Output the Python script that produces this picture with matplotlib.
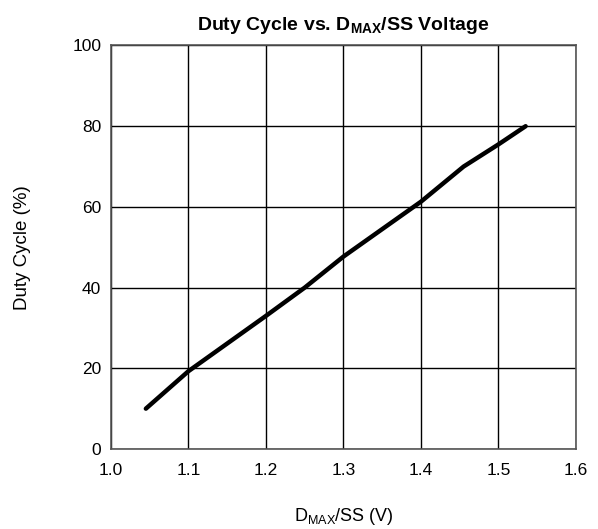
import matplotlib
matplotlib.use('Agg')
import matplotlib.pyplot as plt

plt.rcParams['font.family'] = ['Liberation Sans', 'DejaVu Sans']
plt.rcParams['mathtext.fontset'] = 'custom'
plt.rcParams['mathtext.rm'] = 'Liberation Sans'
plt.rcParams['mathtext.bf'] = 'Liberation Sans:bold'

# duty cycle curve
voltage = [1.045, 1.10, 1.20, 1.25, 1.30, 1.40, 1.455, 1.50, 1.535]
duty = [10.0, 19.3, 33.0, 40.0, 47.7, 61.3, 70.0, 75.5, 80.0]

x_ticks = [1.0, 1.1, 1.2, 1.3, 1.4, 1.5, 1.6]
y_ticks = [0, 20, 40, 60, 80, 100]

fig = plt.figure(figsize=(5.98, 5.29), dpi=100)
ax = fig.add_axes([0.1856, 0.1512, 0.7776, 0.7628])

ax.plot(voltage, duty, color='black', lw=3.2, solid_capstyle='round')

ax.set_xlim(1.0, 1.6)
ax.set_ylim(0, 100)
ax.set_xticks(x_ticks)
ax.set_xticklabels(['%.1f' % v for v in x_ticks])
ax.set_yticks(y_ticks)
ax.tick_params(length=0, labelsize=12.5)
ax.tick_params(axis='x', pad=10)
ax.tick_params(axis='y', pad=7)
ax.grid(True, color='black', lw=1)
for s in ax.spines.values():
    s.set_color('#555555')
    s.set_linewidth(1.2)

ax.set_title(r'Duty Cycle vs. D$_\mathbf{MAX}$/SS Voltage', fontsize=14,
             fontweight='bold', pad=11)
ax.set_xlabel(r'D$_\mathrm{MAX}$/SS (V)', fontsize=13, labelpad=20)
ax.set_ylabel('Duty Cycle (%)', fontsize=13.5, labelpad=30)

plt.savefig('out.png', dpi=100)
